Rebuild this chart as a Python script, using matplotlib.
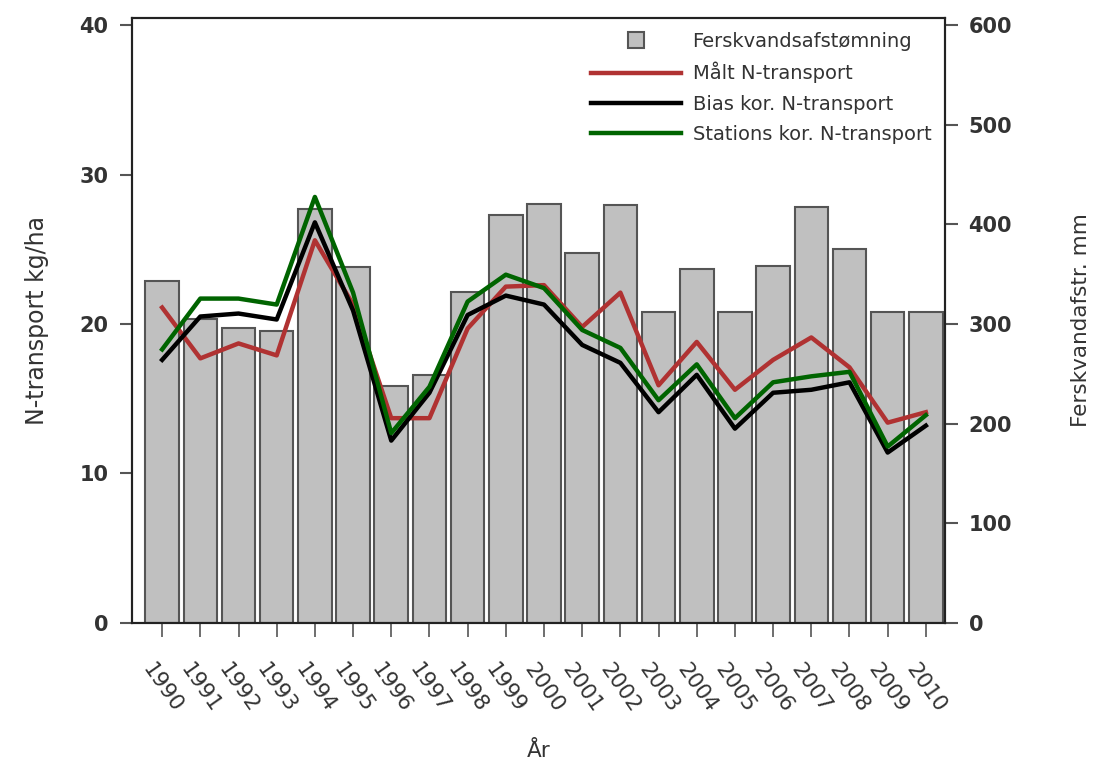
import numpy as np
import matplotlib
matplotlib.use('Agg')
import matplotlib.pyplot as plt
from matplotlib.lines import Line2D

plt.rcParams['font.family'] = ['DejaVu Sans']

# data
years = list(range(1990, 2011))
afstroemning = [343, 305, 296, 293, 415, 357, 238, 249, 332, 409, 420,
                371, 419, 312, 355, 312, 358, 417, 375, 312, 312]
maalt = [21.1, 17.7, 18.7, 17.9, 25.6, 21.3, 13.7, 13.7, 19.7, 22.5, 22.6,
         19.8, 22.1, 15.9, 18.8, 15.6, 17.6, 19.1, 17.1, 13.4, 14.1]
bias = [17.6, 20.5, 20.7, 20.3, 26.8, 20.9, 12.2, 15.4, 20.6, 21.9, 21.3,
        18.6, 17.4, 14.1, 16.6, 13.0, 15.4, 15.6, 16.1, 11.4, 13.2]
stations = [18.3, 21.7, 21.7, 21.3, 28.5, 22.1, 12.7, 15.8, 21.5, 23.3, 22.4,
            19.6, 18.4, 14.9, 17.3, 13.7, 16.1, 16.5, 16.8, 11.8, 13.9]

tick_col = '#333333'
x = np.arange(len(years))

fig = plt.figure(figsize=(10.97, 7.69), dpi=100)
ax1 = fig.add_axes([0.1203, 0.1899, 0.7411, 0.7867])  # bars (right scale)
ax2 = ax1.twinx()  # lines (left scale)

ax1.bar(x, afstroemning, width=0.88, color='#c0c0c0', edgecolor='#555555', linewidth=1.5, zorder=2)
ax1.set_ylim(0, 600 * 40.47 / 40)
ax1.set_xlim(-0.79, 20.5)

ax2.plot(x, maalt, color='#b03232', lw=3.2, zorder=3)
ax2.plot(x, bias, color='black', lw=3.2, zorder=4)
ax2.plot(x, stations, color='#006400', lw=3.2, zorder=5)
ax2.set_ylim(0, 40.47)

# swap sides: lines axis on left, bars axis on right
ax1.yaxis.tick_right()
ax1.yaxis.set_label_position('right')
ax2.yaxis.tick_left()
ax2.yaxis.set_label_position('left')

ax1.set_yticks([0, 100, 200, 300, 400, 500, 600])
ax2.set_yticks([0, 10, 20, 30, 40])

for a in (ax1, ax2):
    for s in a.spines.values():
        s.set_linewidth(1.5)
        s.set_color('#222222')
    a.tick_params(axis='y', direction='out', length=9, width=1.5, color='#555555',
                  labelsize=15, labelcolor=tick_col, pad=8)
    for lbl in a.get_yticklabels():
        lbl.set_fontweight('bold')

ax1.set_xticks(x)
ax1.set_xticklabels(years, rotation=-55, ha='center', va='center', rotation_mode='anchor',
                    fontsize=15.5, color=tick_col)
ax1.tick_params(axis='x', direction='out', length=10, width=1.2, color='#555555', pad=37)

ax2.set_ylabel('N-transport kg/ha', fontsize=17, color=tick_col, labelpad=22)
ax1.set_ylabel('Ferskvandafstr. mm', fontsize=15.5, color=tick_col, labelpad=42)
ax1.set_xlabel('År', fontsize=15.5, color=tick_col, labelpad=18)

handles = [
    Line2D([], [], marker='s', linestyle='none', markersize=12,
           markerfacecolor='#c0c0c0', markeredgecolor='#555555', markeredgewidth=1.5),
    Line2D([], [], color='#b03232', lw=3.2),
    Line2D([], [], color='black', lw=3.2),
    Line2D([], [], color='#006400', lw=3.2),
]
labels = ['Ferskvandsafstømning', 'Målt N-transport', 'Bias kor. N-transport',
          'Stations kor. N-transport']
leg = ax2.legend(handles, labels, loc='upper right', bbox_to_anchor=(1.0, 1.0),
                 frameon=False, fontsize=14, handlelength=4.6, handletextpad=0.6,
                 labelspacing=0.58, borderaxespad=0.3)
for t in leg.get_texts():
    t.set_color(tick_col)

fig.savefig('out.png', dpi=100)
